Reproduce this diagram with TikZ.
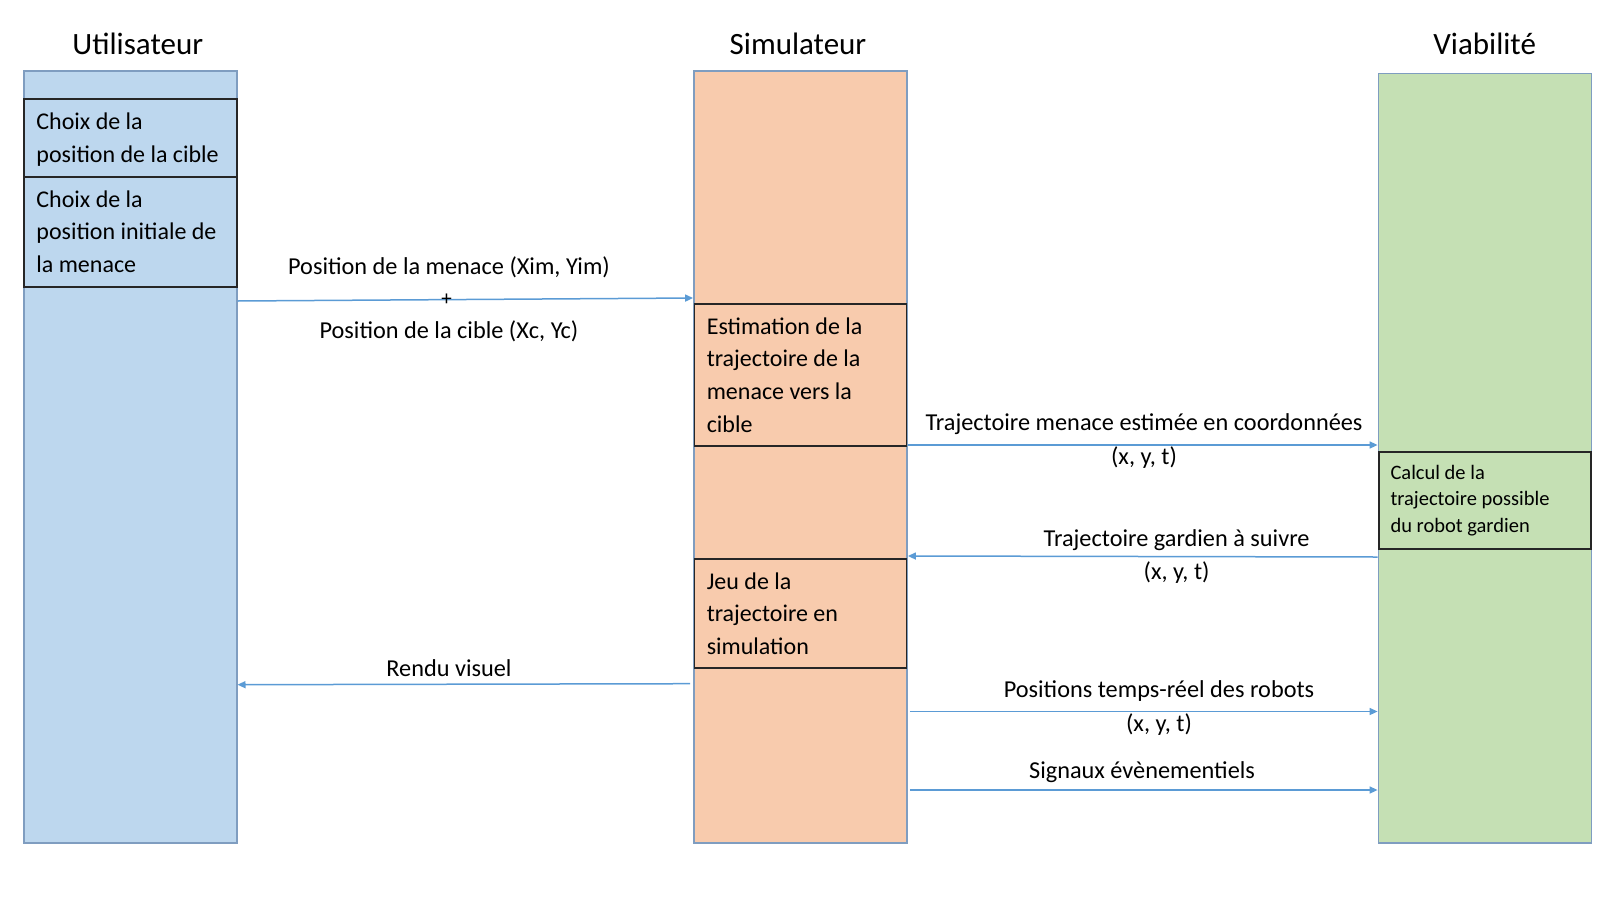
\documentclass[tikz,border=0pt]{standalone}
\usepackage{fontspec}
\setmainfont{Carlito}
\usetikzlibrary{arrows.meta}
\definecolor{ublue}{HTML}{BDD7EE}
\definecolor{sorange}{HTML}{F8CBAD}
\definecolor{vgreen}{HTML}{C5E0B4}
\definecolor{laneborder}{HTML}{7F9DC0}
\definecolor{boxborder}{HTML}{262626}
\definecolor{arrowc}{HTML}{5B9BD5}
\tikzset{
  lane/.style={draw=laneborder, line width=1.8pt, minimum width=213pt, inner sep=0pt},
  stepbox/.style={draw=boxborder, line width=1.8pt, minimum width=212pt, inner sep=0pt},
  boxtext/.style={anchor=west, inner sep=0pt, align=left, font=\fontsize{24}{32.6}\selectfont},
  smalltext/.style={boxtext, font=\fontsize{20.5}{26.7}\selectfont},
  title/.style={font=\fontsize{31}{36}\selectfont, inner sep=0pt},
  lbl/.style={font=\fontsize{24.3}{30}\selectfont, inner sep=0pt},
  arr/.style={draw=arrowc, line width=1.5pt, -{Triangle[length=8pt,width=7pt]}}
}
\begin{document}
\begin{tikzpicture}[x=1pt,y=-1pt]
\useasboundingbox (0,0) rectangle (1600,900);
% lanes
\node[lane, fill=ublue, minimum height=772pt] (ulane) at (130.1,457) {};
\node[lane, fill=sorange, minimum height=772pt] (slane) at (800.5,457) {};
\node[lane, fill=vgreen, minimum height=769.5pt] (vlane) at (1485,458.25) {};
% titles
\node[title] (tu) at (137.8,43.9) {Utilisateur};
\node[title] (ts) at (798,43.9) {Simulateur};
\node[title] (tv) at (1484.7,43.9) {Viabilité};
% boxes
\node[stepbox, fill=ublue, minimum width=213pt, minimum height=77.7pt] (u1) at (130.1,137.85) {};
\node[boxtext] (u1t) at ([xshift=13.5pt,yshift=-2pt]u1.west) {Choix de la\\position de la cible};
\node[stepbox, fill=ublue, minimum width=213pt, minimum height=110pt] (u2) at (130.1,231.7) {};
\node[boxtext] (u2t) at ([xshift=13.5pt]u2.west) {Choix de la\\position initiale de\\la menace};
\node[stepbox, fill=sorange, minimum height=141.7pt] (s1) at (800.5,374.85) {};
\node[boxtext] (s1t) at ([xshift=13pt]s1.west) {Estimation de la\\trajectoire de la\\menace vers la\\cible};
\node[stepbox, fill=sorange, minimum height=109.3pt] (s2) at (800.5,613.65) {};
\node[boxtext] (s2t) at ([xshift=13pt]s2.west) {Jeu de la\\trajectoire en\\simulation};
\node[stepbox, fill=vgreen, minimum height=97.3pt] (v1) at (1484.7,500.35) {};
\node[smalltext] (v1t) at ([xshift=12.5pt]v1.west) {Calcul de la\\trajectoire possible\\du robot gardien};
% connectors
\draw[arr] (ulane.east |- 0,301) -- (slane.west |- 0,298);
\draw[arr] (slane.east |- 0,445) -- (vlane.west |- 0,445);
\draw[arr] (vlane.west |- 0,557) -- (slane.east |- 0,556);
\draw[arr] ([xshift=-3pt]slane.west |- 0,683.7) -- (ulane.east |- 0,684.7);
\draw[arr] ([xshift=2pt]slane.east |- 0,711.5) -- (vlane.west |- 0,711.5);
\draw[arr] ([xshift=2pt]slane.east |- 0,790) -- (vlane.west |- 0,790);
% labels
\node[lbl] (l1a) at (449,267.3) {Position de la menace (Xim, Yim)};
\node[lbl, font=\fontsize{21}{24}\selectfont] (l1p) at (446.7,299.5) {+};
\node[lbl] (l1b) at (449,331.6) {Position de la cible (Xc, Yc)};
\node[lbl] (l2a) at (1144,424.5) {Trajectoire menace estimée en coordonnées};
\node[lbl] (l2b) at (1144,458) {(x, y, t)};
\node[lbl] (l3a) at (1176.6,539.8) {Trajectoire gardien à suivre};
\node[lbl] (l3b) at (1176.6,572.4) {(x, y, t)};
\node[lbl] (l4) at (449,668.4) {Rendu visuel};
\node[lbl] (l5a) at (1159,691) {Positions temps-réel des robots};
\node[lbl] (l5b) at (1159,725) {(x, y, t)};
\node[lbl] (l6) at (1142,772) {Signaux évènementiels};
\end{tikzpicture}
\end{document}
